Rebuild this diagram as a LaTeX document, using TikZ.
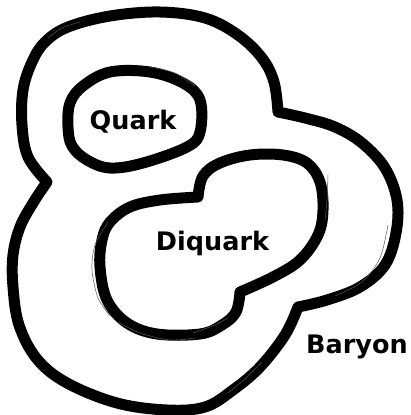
\documentclass[tikz,border=0pt]{standalone}
\usepackage{fontspec}
\setmainfont{DejaVu Sans}
\begin{document}
\begin{tikzpicture}[x=1pt,y=-1pt,
  brush/.style={line width=11pt,black,line join=round,line cap=round},
  pencil/.style={line width=0.5pt,black!65,line cap=round},
  label/.style={font=\bfseries\fontsize{25.5}{30}\selectfont,inner sep=0pt,anchor=base}]
\useasboundingbox (0,0) rectangle (411,415);
\fill[white] (0,0) rectangle (411,415);

% Baryon: three lobes meeting at three notches
\draw[brush]
  plot[smooth,tension=0.6] coordinates {(278,112) (274,82) (262,58) (238,35) (205,18) (160,12) (110,16) (68,27) (45,42) (32,62) (23,90) (22,125) (28,157) (47,182)}
  -- plot[smooth,tension=0.6] coordinates {(47,182) (33,203) (20,227) (13,255) (13,287) (19,325) (37,359) (67,383) (117,403) (167,410) (205,407) (233,390) (260,367) (285,335) (298,307)}
  -- plot[smooth,tension=0.6] coordinates {(298,307) (327,300) (360,287) (385,265) (396,233) (397,200) (385,168) (362,143) (335,127) (305,118) (278,112)}
  -- cycle;

% Quark
\draw[brush] plot[smooth cycle,tension=0.6] coordinates {(110,72) (150,72) (183,83) (200,100) (200,132) (187,147) (143,163) (110,168) (87,160) (72,146) (68,127) (70,103) (83,86)};

% Diquark: two lobes
\draw[brush]
  plot[smooth,tension=0.6] coordinates {(198,197) (203,176) (220,163) (250,155) (283,155) (307,163) (320,182) (323,210) (318,235) (300,260) (273,277) (240,292)}
  -- plot[smooth,tension=0.6] coordinates {(240,292) (236,312) (222,325) (200,334) (157,334) (127,323) (107,300) (100,267) (102,240) (110,222) (130,207) (160,200) (198,197)}
  -- cycle;

% loose pencil strokes beside the brush lines
\draw[pencil] plot[smooth] coordinates {(150,67) (175,73) (195,86)};
\draw[pencil] plot[smooth] coordinates {(48,38) (62,28) (80,22)};
\draw[pencil] plot[smooth] coordinates {(108,222) (95,245) (92,270) (98,298) (110,316)};
\draw[pencil] plot[smooth] coordinates {(118,322) (140,333) (170,340) (195,338)};
\draw[pencil] plot[smooth] coordinates {(193,333) (215,325) (228,318)};
\draw[pencil] plot[smooth] coordinates {(388,225) (380,258) (362,282) (335,296)};
\draw[pencil] plot[smooth] coordinates {(262,362) (246,378) (228,393)};
\draw[pencil] plot[smooth] coordinates {(328,175) (327,200) (325,220)};

\node[label] (quark) at (133,129) {Quark};
\node[label] (diquark) at (212.5,250) {Diquark};
\node[label] (baryon) at (357,353) {Baryon};
\end{tikzpicture}
\end{document}
